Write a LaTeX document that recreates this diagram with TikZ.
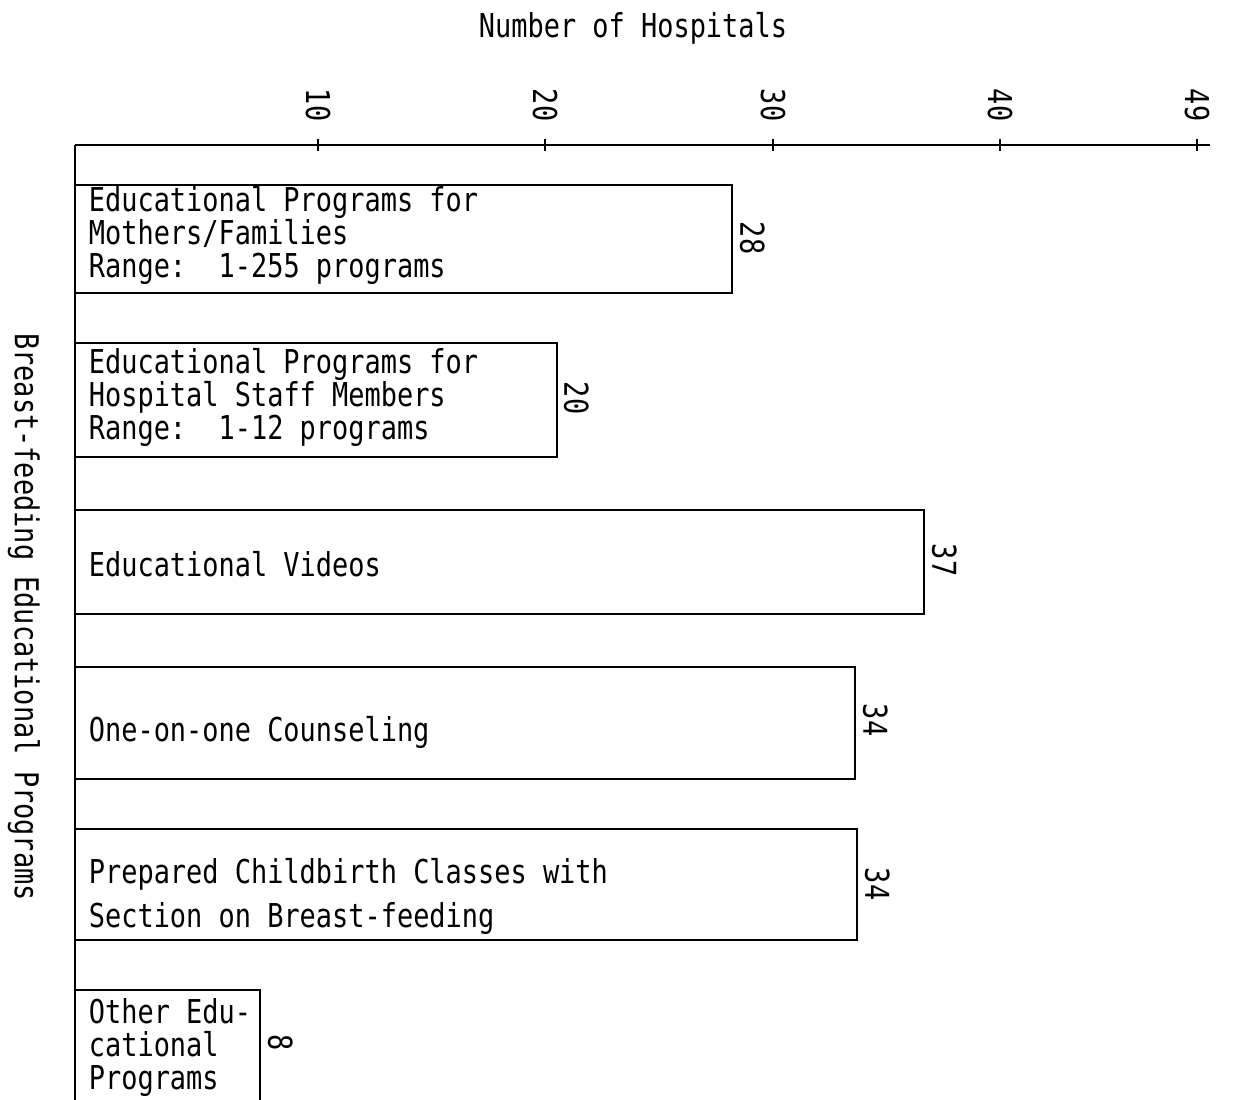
\documentclass[tikz,border=0pt]{standalone}
\usepackage{fontspec}
\newfontfamily\typefont{DejaVu Sans Mono}[FakeStretch=0.82]
\usetikzlibrary{positioning}

\begin{document}
\begin{tikzpicture}[x=0.02cm, y=-0.02cm, line width=1pt,
  every node/.style={font=\typefont\fontsize{18.7}{18.8}\selectfont, inner sep=0pt},
  bartext/.style={anchor=west, align=left},
  barvalue/.style={rotate=-90, anchor=south},
  ticklabel/.style={rotate=-90}]
  \useasboundingbox (0,0) rectangle (1237,1099);

  % Axis titles
  \node (xtitle) at (633,28) {Number of Hospitals};
  \node[rotate=-90] (ytitle) at (24,617) {Breast-feeding Educational Programs};

  % Axes
  \draw (75,145) -- (1210,145);
  \draw (75,145) -- (75,1099);

  % Ticks and their numbers
  \foreach \x/\v in {318/10, 545/20, 773/30, 1000/40, 1197/49} {
    \draw (\x,139) -- (\x,151);
    \node[ticklabel] (t\v) at (\x,105) {\v};
  }

  % Bar 1
  \draw (75,185) rectangle (732,293);
  \node[bartext] (b1) at (88,235) {Educational Programs for\\Mothers/Families\\Range:\ \ 1-255 programs};
  \node[barvalue] (v1) at (739,238) {28};

  % Bar 2
  \draw (75,343) rectangle (557,457);
  \node[bartext] (b2) at (88,397) {Educational Programs for\\Hospital Staff Members\\Range:\ \ 1-12 programs};
  \node[barvalue] (v2) at (563,398) {20};

  % Bar 3
  \draw (75,510) rectangle (924,614);
  \node[bartext] (b3) at (88,564) {Educational Videos};
  \node[barvalue] (v3) at (931,560) {37};

  % Bar 4
  \draw (75,667) rectangle (855,779);
  \node[bartext] (b4) at (88,732) {One-on-one Counseling};
  \node[barvalue] (v4) at (862,720) {34};

  % Bar 5
  \draw (75,829) rectangle (857,940);
  \node[bartext] (b5) at (88,896) {Prepared Childbirth Classes with\\[6.2pt]Section on Breast-feeding};
  \node[barvalue] (v5) at (864,884) {34};

  % Bar 6
  \draw (75,990) rectangle (260,1101);
  \node[bartext] (b6) at (88,1048) {Other Edu-\\cational\\Programs};
  \node[barvalue] (v6) at (267,1043) {8};
\end{tikzpicture}
\end{document}
